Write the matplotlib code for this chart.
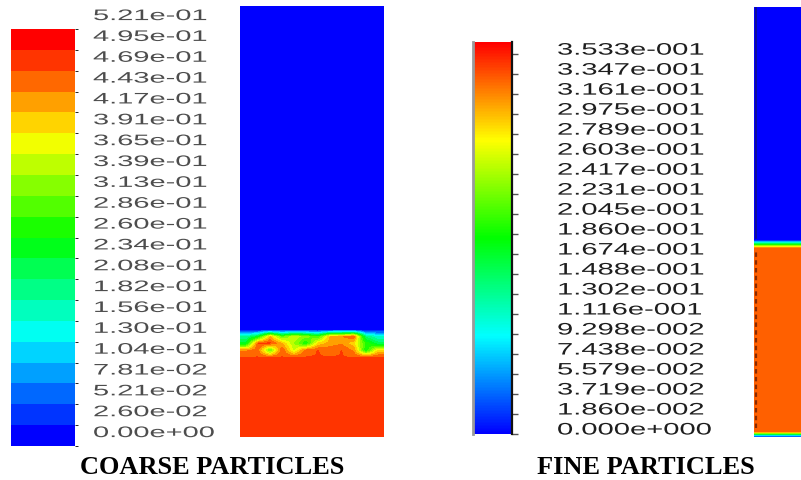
import numpy as np
import matplotlib
matplotlib.use("Agg")
import matplotlib.pyplot as plt
from matplotlib.cm import ScalarMappable
from matplotlib.colors import LinearSegmentedColormap, ListedColormap, BoundaryNorm, Normalize
from matplotlib.patheffects import AbstractPathEffect
from matplotlib.transforms import Affine2D, offset_copy

W, H = 801, 481

# contour levels of the two volume-fraction legends
coarse_levels = [0.0, 0.0260, 0.0521, 0.0781, 0.104, 0.130, 0.156, 0.182, 0.208, 0.234,
                 0.260, 0.286, 0.313, 0.339, 0.365, 0.391, 0.417, 0.443, 0.469, 0.495, 0.521]
fine_levels = [0.0, 0.01860, 0.03719, 0.05579, 0.07438, 0.09298, 0.1116, 0.1302, 0.1488,
               0.1674, 0.1860, 0.2045, 0.2231, 0.2417, 0.2603, 0.2789, 0.2975, 0.3161,
               0.3347, 0.3533]
fine_top = 0.3646

# coarse bed: packed fraction and the mixed layer on top (rows top->bottom)
coarse_packed = 0.47
coarse_bed_frac = 0.20
coarse_mixed = [
    [0.18, 0.24, 0.42, 0.30, 0.36, 0.33, 0.28, 0.42, 0.44, 0.47, 0.20, 0.16],
    [0.24, 0.47, 0.48, 0.42, 0.34, 0.26, 0.40, 0.43, 0.44, 0.40, 0.28, 0.22],
    [0.44, 0.46, 0.30, 0.47, 0.36, 0.46, 0.47, 0.46, 0.47, 0.44, 0.26, 0.40],
]

# fine bed: packed fraction, surface layer (going up) and floor (going up)
fine_packed = 0.33
fine_bed_frac = 0.442
fine_surface = [0.26, 0.17, 0.09]
fine_floor = [0.04, 0.2]

titles = ["COARSE PARTICLES", "FINE PARTICLES"]

fluent = LinearSegmentedColormap.from_list(
    "fluent", ["#0000ff", "#00ffff", "#00ff00", "#ffff00", "#ff0000"])
coarse_cmap = ListedColormap(fluent(np.linspace(0, 1, len(coarse_levels) - 1)))
coarse_norm = BoundaryNorm(coarse_levels, coarse_cmap.N)
fine_norm = Normalize(0, fine_top)


class Stretch(AbstractPathEffect):
    """Widen glyphs horizontally about the text origin."""
    def __init__(self, sx):
        super().__init__()
        self.sx = sx

    def draw_path(self, renderer, gc, tpath, affine, rgbFace=None):
        renderer.draw_path(gc, tpath, Affine2D().scale(self.sx, 1) + affine, rgbFace)


def px_axes(x0, y0, x1, y1):
    return fig.add_axes([x0 / W, 1 - y1 / H, (x1 - x0) / W, (y1 - y0) / H])


def exp3(v):
    m, e = f"{v:.3e}".split("e")
    return f"{m}e{int(e):+04d}"


fig = plt.figure(figsize=(W / 100, H / 100), dpi=100)

# ---- coarse legend (banded), each label sits on the band it opens
cax1 = px_axes(11, 30, 75, 447)
cb1 = fig.colorbar(ScalarMappable(coarse_norm, coarse_cmap), cax=cax1)
cb1.outline.set_visible(False)
cax1.set_yticks([])
n_bands = len(coarse_levels) - 1
tr1 = offset_copy(cax1.transAxes, fig=fig, y=2.5, units="dots")
for i, v in enumerate(coarse_levels):
    cax1.text((93 - 11) / 64, (i + 0.5) / n_bands, f"{v:.2e}", transform=tr1,
              ha="left", va="center", fontsize=11, family="Liberation Sans",
              color="#4d4d4d", path_effects=[Stretch(1.9)])

# ---- coarse column
ax1 = px_axes(240, 7, 384, 438)
n_rows = 62
n_bed = round(n_rows * coarse_bed_frac)
mixed = np.array(coarse_mixed)
n_blue = n_rows - n_bed - mixed.shape[0]
field = np.vstack([np.zeros((n_blue, mixed.shape[1])), mixed,
                   np.full((n_bed, mixed.shape[1]), coarse_packed)])
ax1.imshow(field, cmap=coarse_cmap, norm=coarse_norm, aspect="auto",
           interpolation="bilinear", interpolation_stage="data", extent=[0, 1, 0, 1])
ax1.axis("off")

# ---- fine legend (continuous)
cax2 = px_axes(473, 43, 512, 435)
cb2 = fig.colorbar(ScalarMappable(fine_norm, fluent), cax=cax2)
cb2.outline.set_visible(False)
cax2.set_yticks(fine_levels)
cax2.tick_params(axis="y", right=True, left=False, labelright=False, labelleft=False,
                 length=4, width=1, color="#555555", direction="out")
cax2.plot([0, 0], [0, 1], transform=cax2.transAxes, color="#9a9a9a", lw=2, clip_on=False)
cax2.plot([1, 1], [0, 1], transform=cax2.transAxes, color="#111111", lw=1.6, clip_on=False)
tr2 = offset_copy(cax2.get_yaxis_transform(), fig=fig, y=4, units="dots")
for v in fine_levels:
    cax2.text((557 - 473) / 39, v, exp3(v), transform=tr2,
              ha="left", va="center", fontsize=12, family="Liberation Sans",
              color="#1e1e1e", path_effects=[Stretch(1.75)])

# ---- fine column (cut by the right border)
ax2 = px_axes(754, 8, 815, 438)
n_cells = 215
profile = np.zeros(n_cells)
bed = round(n_cells * fine_bed_frac)
profile[:bed] = fine_packed
profile[bed:bed + len(fine_surface)] = fine_surface
profile[:len(fine_floor)] = fine_floor
ax2.imshow(profile[:, None], origin="lower", cmap=fluent, norm=fine_norm, aspect="auto",
           interpolation="bilinear", interpolation_stage="data", extent=[0, 1, 0, 1])
ax2.plot([0.025, 0.025], [fine_bed_frac + 0.02, 1], color="#10108a", lw=1.2)
ax2.plot([0.035, 0.035], [0.02, fine_bed_frac - 0.01], color="#8a2a00", lw=1.6,
         dashes=(2, 1.5))
ax2.set_xlim(0, 1)
ax2.set_ylim(0, 1)
ax2.axis("off")

fig.text(212 / W, 1 - 468 / H, titles[0], ha="center", va="center", fontsize=19,
         family="Liberation Serif", fontweight="bold")
fig.text(646 / W, 1 - 468 / H, titles[1], ha="center", va="center", fontsize=19,
         family="Liberation Serif", fontweight="bold")

fig.savefig("out.png", dpi=100)
